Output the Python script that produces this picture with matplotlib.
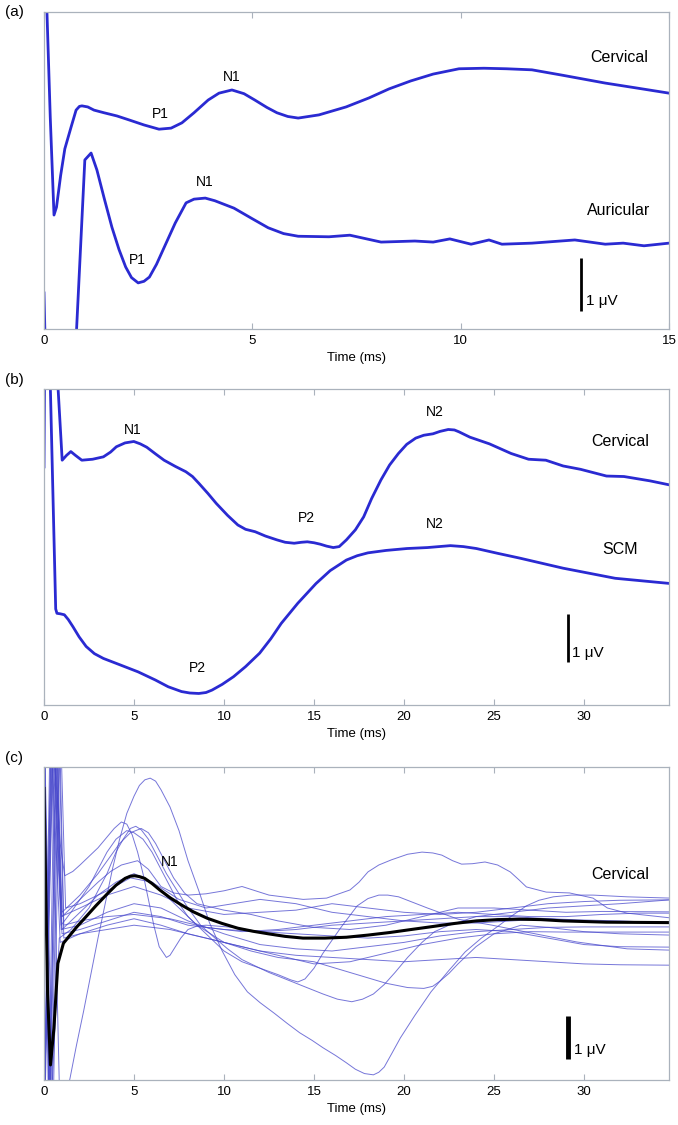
import numpy as np
import matplotlib.pyplot as plt

plt.rcParams['font.family'] = ['Liberation Sans', 'DejaVu Sans']

# ---- panel (a): 0-15 ms, values in microvolts (arbitrary offset) ----
a_cerv_t = [0.0, 0.05, 0.15, 0.24, 0.30, 0.40, 0.5, 0.65, 0.77, 0.85, 0.91, 1.05,
            1.2, 1.44, 1.75, 2.06, 2.4, 2.76, 3.05, 3.31, 3.6, 3.94, 4.2, 4.51,
            4.8, 5.06, 5.35, 5.59, 5.85, 6.10, 6.6, 7.25, 7.8, 8.28, 8.8, 9.34,
            9.96, 10.56, 11.1, 11.71, 12.43, 13.47, 14.2, 15.0]
a_cerv_v = [7.0, 6.5, 4.0, 2.15, 2.3, 2.9, 3.4, 3.81, 4.13, 4.2, 4.21, 4.19,
            4.13, 4.08, 4.02, 3.94, 3.85, 3.77, 3.79, 3.89, 4.08, 4.32, 4.45, 4.51,
            4.44, 4.32, 4.18, 4.08, 4.01, 3.98, 4.04, 4.19, 4.36, 4.53, 4.68, 4.81,
            4.91, 4.92, 4.91, 4.89, 4.79, 4.64, 4.55, 4.45]
a_aur_t = [0.0, 0.05, 0.4, 0.72, 0.98, 1.13, 1.27, 1.45, 1.63, 1.8, 1.96, 2.1,
           2.26, 2.4, 2.53, 2.7, 2.89, 3.15, 3.41, 3.6, 3.87, 4.1, 4.56, 5.0,
           5.38, 5.75, 6.10, 6.84, 7.34, 8.09, 8.90, 9.34, 9.74, 10.25, 10.68,
           10.99, 11.71, 12.74, 13.47, 13.9, 14.4, 15.0]
a_aur_v = [0.68, -1.0, -5.0, -1.0, 3.19, 3.32, 3.0, 2.45, 1.92, 1.5, 1.17, 0.97,
           0.87, 0.9, 0.98, 1.22, 1.55, 2.0, 2.38, 2.45, 2.47, 2.42, 2.28, 2.08,
           1.91, 1.8, 1.75, 1.74, 1.77, 1.64, 1.66, 1.64, 1.70, 1.60, 1.68,
           1.60, 1.62, 1.68, 1.60, 1.62, 1.57, 1.62]

# ---- panel (b): 0-35 ms ----
b_cerv_t = [0.0, 0.05, 0.4, 0.72, 1.01, 1.25, 1.49, 1.75, 2.10, 2.7, 3.30, 3.7,
            4.02, 4.5, 4.99, 5.35, 5.71, 6.2, 6.67, 7.3, 7.88, 8.25, 8.60, 9.1,
            9.57, 10.2, 10.77, 11.2, 11.73, 12.3, 12.94, 13.4, 13.90, 14.3, 14.63,
            15.0, 15.35, 15.7, 16.07, 16.4, 16.80, 17.3, 17.76, 18.2, 18.72, 19.2,
            19.69, 20.15, 20.65, 21.1, 21.61, 22.0, 22.46, 22.8, 23.06, 23.66,
            24.75, 25.95, 26.92, 27.88, 28.84, 29.81, 31.25, 32.22, 33.66, 34.82]
b_cerv_v = [4.96, 8.0, 12.0, 7.0, 5.10, 5.2, 5.28, 5.2, 5.10, 5.12, 5.17, 5.27,
            5.38, 5.46, 5.49, 5.44, 5.37, 5.23, 5.10, 4.97, 4.86, 4.76, 4.62, 4.41,
            4.20, 3.95, 3.75, 3.66, 3.61, 3.52, 3.44, 3.39, 3.37, 3.39, 3.40,
            3.38, 3.35, 3.31, 3.28, 3.30, 3.44, 3.65, 3.92, 4.3, 4.69, 5.0,
            5.24, 5.43, 5.56, 5.62, 5.65, 5.70, 5.74, 5.73, 5.69, 5.58,
            5.44, 5.24, 5.12, 5.10, 4.98, 4.91, 4.77, 4.76, 4.67, 4.58]
b_scm_t = [0.0, 0.2, 0.65, 0.72, 0.9, 1.13, 1.35, 1.61, 1.95, 2.34, 2.8, 3.30,
           4.2, 5.23, 6.19, 6.9, 7.64, 8.1, 8.60, 9.0, 9.33, 9.9, 10.53, 11.2,
           11.98, 12.6, 13.18, 14.1, 15.11, 15.9, 16.80, 17.4, 18.0, 19.0, 20.17,
           21.3, 22.58, 23.3, 24.02, 25.2, 26.43, 28.84, 31.73, 34.82]
b_scm_v = [12.0, 9.0, 2.0, 1.91, 1.9, 1.88, 1.78, 1.63, 1.42, 1.22, 1.07, 0.97,
           0.84, 0.69, 0.52, 0.38, 0.28, 0.25, 0.24, 0.26, 0.31, 0.43, 0.59, 0.8,
           1.08, 1.38, 1.70, 2.12, 2.53, 2.8, 3.02, 3.11, 3.17, 3.22, 3.26,
           3.28, 3.32, 3.30, 3.26, 3.16, 3.06, 2.85, 2.64, 2.53]

# ---- panel (c): individual cervical traces and their mean ----
c_mean_t = [0.0, 0.05, 0.2, 0.36, 0.55, 0.77, 1.08, 1.37, 1.8, 2.34, 2.9, 3.54,
            4.0, 4.51, 4.8, 5.04, 5.3, 5.59, 6.0, 6.43, 7.0, 7.64, 8.3, 9.08,
            9.9, 10.77, 11.6, 12.46, 13.4, 14.39, 15.6, 16.80, 18.0, 19.21, 20.4,
            21.61, 22.8, 24.02, 25.2, 26.43, 27.6, 28.84, 31.25, 34.82]
c_mean_v = [6.78, 5.5, 2.0, 0.35, 1.2, 2.71, 3.18, 3.33, 3.55, 3.80, 4.06, 4.34,
            4.53, 4.69, 4.74, 4.75, 4.73, 4.69, 4.57, 4.42, 4.24, 4.07, 3.91, 3.76,
            3.64, 3.53, 3.46, 3.40, 3.34, 3.30, 3.30, 3.32, 3.37, 3.43, 3.50,
            3.57, 3.64, 3.70, 3.73, 3.74, 3.73, 3.70, 3.67, 3.66]

c_traces = [
    ([0, 0.4, 0.9, 1.45, 1.8, 2.2, 2.6, 3.0, 3.4, 3.8, 4.2, 4.6, 5.0, 5.3, 5.6,
      5.9, 6.2, 6.5, 7.0, 7.5, 8.0, 8.6, 9.2, 9.9, 10.6, 11.3, 12.0, 12.8, 13.5,
      14.2, 14.9, 15.5, 16.2, 16.8, 17.3, 17.8, 18.3, 18.6, 18.9, 19.3, 19.8,
      20.6, 21.5, 22.5, 23.4, 24.3, 25.3, 26.0, 26.8, 27.5, 28.3, 29.3, 30.5,
      32.4, 34.8],
     [-1, 8, -1, 0.05, 0.8, 1.6, 2.45, 3.3, 4.1, 4.9, 5.6, 6.2, 6.6, 6.85, 6.98,
      7.02, 6.95, 6.75, 6.35, 5.8, 5.1, 4.4, 3.65, 3.0, 2.45, 2.05, 1.8, 1.55,
      1.32, 1.1, 0.92, 0.75, 0.57, 0.4, 0.25, 0.15, 0.12, 0.18, 0.3, 0.6, 0.98,
      1.5, 2.05, 2.55, 2.98, 3.3, 3.6, 3.82, 4.05, 4.18, 4.26, 4.3, 4.3,
      4.26, 4.23]),
    ([0, 0.3, 0.7, 1.0, 2, 3, 3.7, 4.3, 5.2, 5.8, 6.5, 7.2, 8, 9, 10, 11, 12.5,
      14.4, 15.7, 17.0, 17.5, 18.0, 18.6, 19.3, 20.2, 21.0, 21.6, 22.1, 22.7,
      23.2, 23.8, 24.5, 25.2, 25.9, 26.4, 26.8, 27.9, 29.2, 30.5, 31.3, 32.4,
      34.8],
     [8.5, -1, 8.5, 3.8, 4.2, 4.6, 4.85, 5.0, 5.1, 4.9, 4.5, 4.35, 4.3, 4.33,
      4.4, 4.5, 4.3, 4.2, 4.23, 4.42, 4.6, 4.84, 5.0, 5.12, 5.25, 5.3, 5.28,
      5.23, 5.1, 5.02, 5.03, 5.07, 5.0, 4.84, 4.65, 4.49, 4.37, 4.35, 4.23,
      4.0, 3.88, 3.77]),
    ([0, 0.5, 0.9, 1.15, 1.6, 2.0, 2.5, 3.0, 3.4, 3.9, 4.3, 4.6, 4.9, 5.2, 5.5,
      5.8, 6.1, 6.4, 6.8, 7.0, 7.3, 7.6, 8.0, 8.5, 9, 10.5, 12, 14, 16, 18, 20,
      22, 24, 26, 28, 30, 32, 34.8],
     [-1, 8, 5.5, 4.75, 4.85, 5.0, 5.2, 5.4, 5.6, 5.85, 6.0, 5.95, 5.7, 5.3,
      4.8, 4.2, 3.6, 3.1, 2.85, 2.9, 3.1, 3.3, 3.5, 3.58, 3.6, 3.55, 3.45, 3.5,
      3.6, 3.65, 3.7, 3.75, 3.8, 3.8, 3.75, 3.7, 3.68, 3.67]),
    ([0, 0.35, 0.85, 1.5, 2.5, 3.5, 4.0, 4.4, 4.8, 5.1, 5.4, 5.8, 6.3, 6.8, 7.4,
      8.0, 8.7, 9.5, 10.2, 11, 12.5, 14.0, 15.5, 16.3, 17.1, 17.7, 18.3, 18.9,
      19.5, 20.2, 21, 21.7, 22.5, 24, 26, 28, 30, 32, 34.8],
     [8.5, -1, 3.3, 3.5, 4.0, 4.8, 5.3, 5.6, 5.85, 5.9, 5.82, 5.6, 5.2, 4.8,
      4.4, 4.0, 3.6, 3.3, 3.05, 2.8, 2.5, 2.25, 2.0, 1.88, 1.82, 1.88, 2.0,
      2.22, 2.5, 2.85, 3.2, 3.45, 3.6, 3.8, 3.9, 4.0, 4.05, 4.1, 4.19]),
    ([0, 0.4, 0.95, 1.5, 2.5, 3.5, 4.0, 4.6, 5.0, 5.5, 6.0, 6.5, 7.0, 7.5, 8.0,
      8.5, 10, 11.5, 13, 15, 17, 19, 20.2, 21.1, 21.6, 22, 22.5, 23, 24, 25,
      26.5, 28, 30, 32, 34.8],
     [-1.5, 8.5, 3.6, 3.9, 4.5, 5.3, 5.6, 5.8, 5.75, 5.6, 5.3, 4.9, 4.5, 4.1,
      3.8, 3.6, 3.2, 3.0, 2.85, 2.75, 2.5, 2.25, 2.15, 2.13, 2.18, 2.3, 2.48,
      2.7, 3.1, 3.4, 3.6, 3.55, 3.45, 3.4, 3.37]),
    ([0, 0.25, 0.6, 1.0, 2, 3, 4, 5, 6, 7, 8, 9, 10, 11, 12, 13, 13.7, 14.1,
      14.5, 15.0, 15.5, 16.5, 17.4, 18.0, 18.6, 19.1, 19.7, 21.3, 23.0, 24.9,
      26.8, 29.6, 32.4, 34.8],
     [8.5, -1, 8.5, 3.5, 3.9, 4.3, 4.6, 4.8, 4.6, 4.2, 3.8, 3.4, 3.0, 2.75,
      2.6, 2.45, 2.33, 2.28, 2.35, 2.6, 2.95, 3.55, 4.05, 4.22, 4.3, 4.3,
      4.26, 4.0, 3.74, 3.6, 3.44, 3.21, 3.05, 3.02]),
    ([0, 0.5, 0.95, 2, 3.5, 5, 6.5, 8, 10, 12, 14, 16, 18, 20, 22, 24, 26, 28,
      30, 32, 34.8],
     [-1, 8.5, 3.8, 4.0, 4.3, 4.5, 4.3, 4.0, 3.85, 3.9, 3.95, 4.1, 4.0, 3.9,
      3.85, 3.9, 4.0, 4.1, 4.15, 4.18, 4.19]),
    ([0, 0.3, 0.8, 1.1, 2, 3.5, 5, 6.5, 8, 10, 12, 14, 16, 18, 20, 22, 24, 26,
      28, 30, 32, 34.8],
     [8.5, -1.5, 8.5, 3.3, 3.4, 3.6, 3.75, 3.6, 3.4, 3.2, 3.0, 2.9, 2.85, 2.8,
      2.75, 2.8, 2.85, 2.8, 2.75, 2.7, 2.68, 2.67]),
    ([0, 0.45, 1.0, 2, 3.5, 5, 6.5, 8, 10, 12, 14, 16, 18, 20, 22, 24, 26, 28,
      30, 32, 34.8],
     [-1, 8.5, 3.4, 3.5, 3.7, 3.9, 3.8, 3.6, 3.5, 3.45, 3.4, 3.35, 3.3, 3.35,
      3.45, 3.5, 3.45, 3.3, 3.15, 3.1, 3.09]),
    ([0, 0.4, 0.85, 1.1, 2, 3.5, 5, 7, 9, 11, 13, 15, 17, 19, 21, 23, 25, 27, 29,
      31, 33, 34.8],
     [8.5, -1, 8.5, 3.6, 3.7, 3.8, 3.85, 3.75, 3.55, 3.45, 3.5, 3.6, 3.7, 3.8,
      3.85, 3.9, 3.85, 3.8, 3.8, 3.85, 3.88, 3.88]),
    ([0, 0.55, 1.0, 2, 3, 3.6, 4.2, 4.8, 5.4, 5.8, 6.2, 6.7, 7.2, 7.8, 8.5, 10,
      11.5, 13, 15, 17, 19, 21, 23, 25, 27, 29, 31, 34.8],
     [-1.5, 8.5, 3.9, 4.3, 4.8, 5.15, 5.5, 5.75, 5.85, 5.75, 5.5, 5.1, 4.7,
      4.35, 4.1, 3.95, 3.85, 3.7, 3.55, 3.5, 3.6, 3.8, 4.0, 4.0, 3.95, 3.9,
      3.92, 3.91]),
    ([0, 0.3, 0.7, 0.95, 2, 3.5, 5, 6.5, 8, 10, 12, 14, 16, 18, 20, 22, 24, 26,
      28, 30, 32, 34.8],
     [8.5, -1, 8.5, 3.5, 3.6, 3.9, 4.1, 4.0, 3.7, 3.4, 3.15, 3.05, 3.0, 3.1,
      3.2, 3.35, 3.45, 3.5, 3.55, 3.56, 3.56, 3.56]),
    ([0, 0.35, 0.9, 2, 3.5, 5, 7, 9, 11, 13, 15, 17, 19, 21, 23, 25, 27, 29, 31,
      34.8],
     [-1, 8.5, 3.2, 3.4, 3.5, 3.6, 3.5, 3.3, 3.1, 2.9, 2.7, 2.75, 2.95, 3.15,
      3.3, 3.4, 3.45, 3.44, 3.44, 3.44]),
    ([0, 0.5, 0.9, 1.2, 2, 3.5, 4.8, 6, 7.5, 9, 10.5, 12, 14, 16, 18, 20, 22, 24,
      26, 28, 30, 32, 34.8],
     [8.5, -1, 8.5, 4.0, 4.1, 4.4, 4.7, 4.6, 4.2, 4.0, 4.1, 4.2, 4.1, 3.9, 3.8,
      3.7, 3.65, 3.65, 3.7, 3.75, 3.72, 3.7, 3.65]),
]

line_blue = '#2a2ad2'
spine_gray = '#aab2bc'

fig = plt.figure(figsize=(6.78, 11.25), dpi=100)
W, H = 678.0, 1125.0


def make_axes(top, bottom):
    ax = fig.add_axes([44 / W, 1 - bottom / H, (669 - 44) / W, (bottom - top) / H])
    for s in ax.spines.values():
        s.set_color(spine_gray)
        s.set_linewidth(0.9)
    ax.set_yticks([])
    ax.tick_params(axis='x', direction='in', top=True, bottom=True, length=4,
                   color=spine_gray, labelsize=9.5, pad=4)
    ax.set_xlabel('Time (ms)', fontsize=9.5, labelpad=4)
    return ax


def scale_bar(ax, t, v0, lw, tx, ty):
    ax.plot([t, t], [v0, v0 + 1], color='black', lw=lw, solid_capstyle='butt')
    ax.text(tx, ty, '1 \u03bcV', fontsize=11, ha='left', va='center')


# (a)
ax = make_axes(12, 329)
ax.plot(a_cerv_t, a_cerv_v, color=line_blue, lw=2)
ax.plot(a_aur_t, a_aur_v, color=line_blue, lw=2)
ax.set_xlim(0, 15)
ax.set_ylim(0, 317 / 53)
ax.set_xticks([0, 5, 10, 15])
ax.text(13.8, 5.13, 'Cervical', fontsize=11.5, ha='center', va='center')
ax.text(13.8, 2.23, 'Auricular', fontsize=11.5, ha='center', va='center')
ax.text(4.51, 4.75, 'N1', fontsize=10, ha='center', va='center')
ax.text(2.78, 4.06, 'P1', fontsize=10, ha='center', va='center')
ax.text(3.86, 2.77, 'N1', fontsize=10, ha='center', va='center')
ax.text(2.23, 1.30, 'P1', fontsize=10, ha='center', va='center')
scale_bar(ax, 12.89, 0.34, 2, 13.02, 0.53)
fig.text(14 / W, 1 - 12 / H, '(a)', fontsize=11, ha='center', va='center')

# (b)
ax = make_axes(389, 705)
ax.plot(b_cerv_t, b_cerv_v, color=line_blue, lw=2)
ax.plot(b_scm_t, b_scm_v, color=line_blue, lw=2)
ax.set_xlim(0, 625 / 18)
ax.set_ylim(0, 316 / 48)
ax.set_xticks([0, 5, 10, 15, 20, 25, 30])
ax.text(4.94, 5.73, 'N1', fontsize=10, ha='center', va='center')
ax.text(21.7, 6.10, 'N2', fontsize=10, ha='center', va='center')
ax.text(32.0, 5.48, 'Cervical', fontsize=11.5, ha='center', va='center')
ax.text(14.56, 3.90, 'P2', fontsize=10, ha='center', va='center')
ax.text(21.7, 3.77, 'N2', fontsize=10, ha='center', va='center')
ax.text(32.0, 3.25, 'SCM', fontsize=11.5, ha='center', va='center')
ax.text(8.5, 0.77, 'P2', fontsize=10, ha='center', va='center')
scale_bar(ax, 29.1, 0.9, 2, 29.35, 1.08)
fig.text(14 / W, 1 - 380 / H, '(b)', fontsize=11, ha='center', va='center')

# (c)
ax = make_axes(767, 1080)
for t, v in c_traces:
    ax.plot(t, v, color='#4848cc', lw=0.7, alpha=0.75)
ax.plot(c_mean_t, c_mean_v, color='black', lw=2.2)
ax.set_xlim(0, 625 / 18)
ax.set_ylim(0, 313 / 43)
ax.set_xticks([0, 5, 10, 15, 20, 25, 30])
ax.text(7.0, 5.07, 'N1', fontsize=10, ha='center', va='center')
ax.text(32.0, 4.79, 'Cervical', fontsize=11.5, ha='center', va='center')
scale_bar(ax, 29.1, 0.49, 3.5, 29.45, 0.70)
fig.text(14 / W, 1 - 758 / H, '(c)', fontsize=11, ha='center', va='center')

fig.savefig('out.png', dpi=100)
